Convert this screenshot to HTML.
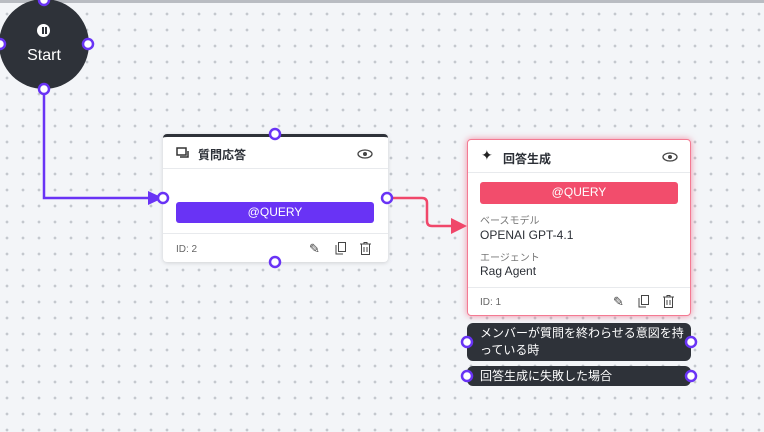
<!DOCTYPE html>
<html><head><meta charset="utf-8"><style>
body{margin:0;width:764px;height:432px;overflow:hidden;background:#f3f5f8;font-family:"Liberation Sans","Noto Sans CJK JP",sans-serif;position:relative;
background-image:radial-gradient(circle,#c4c8ce 1.2px,transparent 1.6px);background-size:16px 16px;background-position:-1px 6px;}
.topbar{position:absolute;left:0;top:0;width:764px;height:3px;background:#b9bcc2;}
.node{position:absolute;background:#fff;border-radius:4px;box-sizing:border-box;}
.h{position:absolute;font-size:12px;color:#2b2f36;font-weight:bold;}
.line{position:absolute;height:1px;background:#e8eaed;left:0;right:0;}
.btn{position:absolute;border-radius:3px;color:#fff;font-size:12px;text-align:center;line-height:21px;}
.id{position:absolute;font-size:10px;color:#666;}
.lbl{position:absolute;font-size:10px;color:#777;}
.val{position:absolute;font-size:12px;color:#2b2f36;}
.cond{position:absolute;background:#2e3239;border-radius:6px;color:#fff;font-size:12px;line-height:17px;padding:0 0 0 13px;box-sizing:border-box;}
</style></head><body>
<div class="topbar"></div>
<svg width="764" height="432" style="position:absolute;left:0;top:0">
<path d="M44 89 V198 H150" stroke="#6933f5" stroke-width="2.5" fill="none"/>
<polygon points="148,191 163,198 148,205" fill="#6933f5"/>
<path d="M387 198 H422 Q427 198 427 203 V221 Q427 226 432 226 H453" stroke="#f0476a" stroke-width="2.5" fill="none"/>
<polygon points="451,218 467,226 451,234" fill="#f0476a"/>
</svg>
<div style="position:absolute;left:-1px;top:-1px;width:90px;height:90px;border-radius:50%;background:#2e3239;"></div>
<div style="position:absolute;left:37px;top:24px;width:13px;height:13px;border-radius:50%;background:#fff;"></div>
<div style="position:absolute;left:42px;top:27px;width:1.5px;height:7px;background:#2e3239;"></div>
<div style="position:absolute;left:45px;top:27px;width:1.5px;height:7px;background:#2e3239;"></div>
<div style="position:absolute;left:0;top:47px;width:88px;text-align:center;color:#fff;font-size:16px;">Start</div>

<div class="node" style="left:163px;top:134px;width:225px;height:128px;border-top:3px solid #2e3239;box-shadow:0 1px 4px rgba(0,0,0,.15);">
<svg style="position:absolute;left:13px;top:10px" width="14" height="12"><rect x="1" y="1" width="9" height="7" fill="none" stroke="#333" stroke-width="1.5"/><path d="M4 10 H12 V4" fill="none" stroke="#333" stroke-width="1.5"/></svg>
<div class="h" style="left:35px;top:9px;">質問応答</div>
<svg style="position:absolute;left:194px;top:12px" width="16" height="10"><ellipse cx="8" cy="5" rx="7" ry="4" fill="none" stroke="#444" stroke-width="1.3"/><circle cx="8" cy="5" r="2" fill="#444"/></svg>
<div class="line" style="top:31px"></div>
<div class="btn" style="left:13px;top:65px;width:198px;background:#6933f5;">@QUERY</div>
<div class="line" style="top:96px"></div>
<div class="id" style="left:13px;top:107px;">ID: 2</div>
<div style="position:absolute;left:146px;top:104px;font-size:13px;color:#444">✎</div>
<svg style="position:absolute;left:172px;top:105px" width="12" height="13"><rect x="3.5" y="0.5" width="7" height="9" fill="none" stroke="#444"/><path d="M1 3 V12 H8" fill="none" stroke="#444"/></svg>
<svg style="position:absolute;left:197px;top:105px" width="11" height="13"><path d="M0 2 H11 M4 2 V0.5 H7 V2 M1.5 2 V12.5 H9.5 V2 M4 5 V10 M7 5 V10" fill="none" stroke="#444"/></svg>
</div>

<div class="node" style="left:467px;top:139px;width:224px;height:177px;border:1.5px solid #f47a92;box-shadow:0 0 7px rgba(240,71,106,.6);">
<div style="position:absolute;left:13px;top:7px;font-size:14px;color:#222">✦</div>
<div class="h" style="left:35px;top:10px;">回答生成</div>
<svg style="position:absolute;left:194px;top:12px" width="16" height="10"><ellipse cx="8" cy="5" rx="7" ry="4" fill="none" stroke="#444" stroke-width="1.3"/><circle cx="8" cy="5" r="2" fill="#444"/></svg>
<div class="line" style="top:32px"></div>
<div class="btn" style="left:12px;top:42px;width:198px;height:22px;background:#f24d6c;">@QUERY</div>
<div class="lbl" style="left:12px;top:72px;">ベースモデル</div>
<div class="val" style="left:12px;top:88px;">OPENAI GPT-4.1</div>
<div class="lbl" style="left:12px;top:109px;">エージェント</div>
<div class="val" style="left:12px;top:124px;">Rag Agent</div>
<div class="line" style="top:147px"></div>
<div class="id" style="left:12px;top:157px;">ID: 1</div>
<div style="position:absolute;left:145px;top:154px;font-size:13px;color:#444">✎</div>
<svg style="position:absolute;left:170px;top:155px" width="12" height="13"><rect x="3.5" y="0.5" width="7" height="9" fill="none" stroke="#444"/><path d="M1 3 V12 H8" fill="none" stroke="#444"/></svg>
<svg style="position:absolute;left:195px;top:155px" width="11" height="13"><path d="M0 2 H11 M4 2 V0.5 H7 V2 M1.5 2 V12.5 H9.5 V2 M4 5 V10 M7 5 V10" fill="none" stroke="#444"/></svg>
</div>

<div class="cond" style="left:467px;top:323px;width:224px;height:38px;padding-top:2px;">メンバーが質問を終わらせる意図を持<br>っている時</div>
<div class="cond" style="left:467px;top:366px;width:224px;height:20px;line-height:20px;">回答生成に失敗した場合</div>

<svg width="764" height="432" style="position:absolute;left:0;top:0">
<g fill="#fff" stroke="#6933f5" stroke-width="2.5">
<circle cx="44" cy="0" r="5"/><circle cx="0" cy="44" r="5"/><circle cx="88" cy="44" r="5"/><circle cx="44" cy="89" r="5"/>
<circle cx="163" cy="198" r="5"/><circle cx="387" cy="198" r="5"/><circle cx="275" cy="134" r="5"/><circle cx="275" cy="262" r="5"/>
<circle cx="467" cy="342" r="5"/><circle cx="691" cy="342" r="5"/><circle cx="467" cy="376" r="5"/><circle cx="691" cy="376" r="5"/>
</g></svg>
</body></html>
